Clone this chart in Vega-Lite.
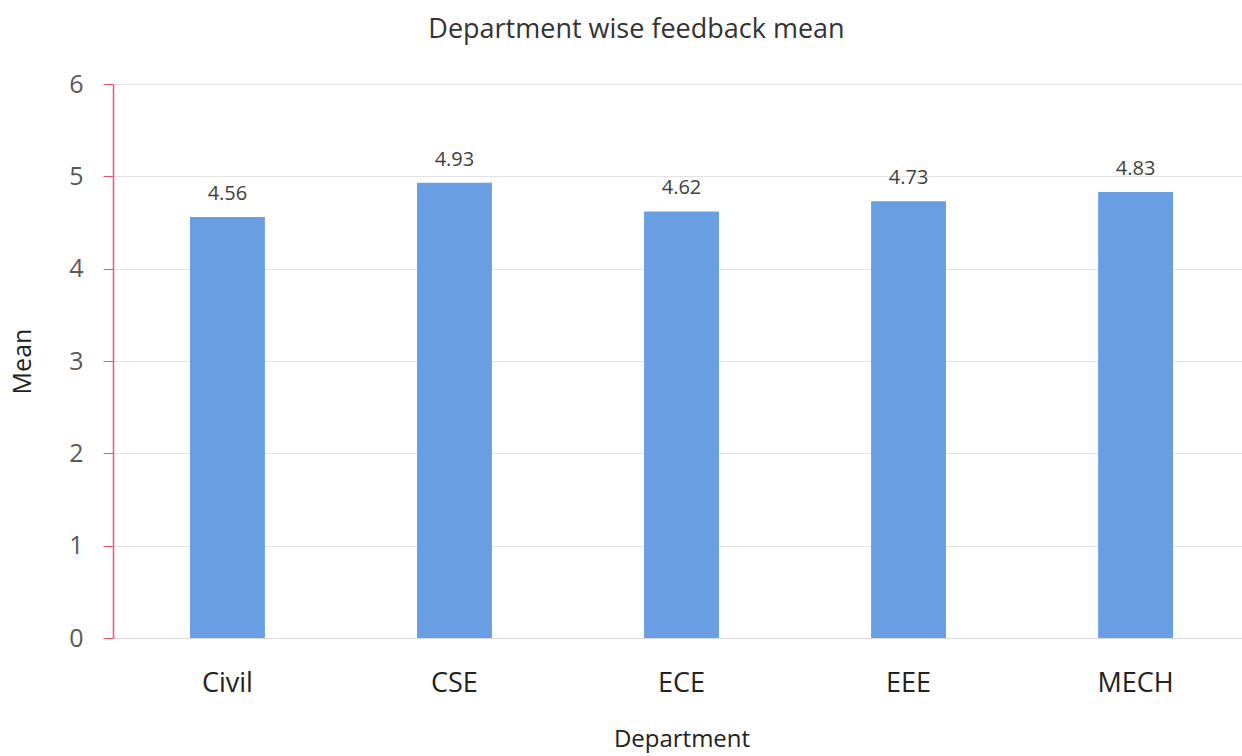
{
  "$schema": "https://vega.github.io/schema/vega-lite/v6.json",
  "autosize": {"type": "none"},
  "padding": {"left": 113, "top": 84, "right": 0, "bottom": 118},
  "width": 1129,
  "height": 554,
  "background": "white",
  "title": {
    "text": "Department wise feedback mean",
    "font": "Open Sans",
    "fontSize": 27,
    "fontWeight": "normal",
    "color": "#333333",
    "anchor": "middle",
    "dx": -41,
    "offset": 28
  },
  "data": {
    "values": [
      {"Department": "Civil", "Mean": 4.56},
      {"Department": "CSE", "Mean": 4.93},
      {"Department": "ECE", "Mean": 4.62},
      {"Department": "EEE", "Mean": 4.73},
      {"Department": "MECH", "Mean": 4.83}
    ]
  },
  "encoding": {
    "x": {
      "field": "Department",
      "type": "nominal",
      "sort": null,
      "scale": {"paddingInner": 0.67, "paddingOuter": 0.339, "range": [0, 1137]},
      "axis": {
        "labelAngle": 0,
        "labelFont": "Open Sans",
        "labelFontSize": 27,
        "labelColor": "#222222",
        "labelPadding": 32,
        "ticks": false,
        "domain": true,
        "domainColor": "#d9d9d9",
        "title": "Department",
        "titleFont": "Open Sans",
        "titleFontSize": 24,
        "titleFontWeight": "normal",
        "titleColor": "#222222",
        "titlePadding": 31
      }
    },
    "y": {
      "field": "Mean",
      "type": "quantitative",
      "scale": {"domain": [0, 6], "nice": false},
      "axis": {
        "values": [0, 1, 2, 3, 4, 5, 6],
        "labelFont": "Open Sans",
        "labelFontSize": 25,
        "labelColor": "#595959",
        "labelPadding": 20,
        "tickSize": 10,
        "tickColor": "#e8586a",
        "domainColor": "#e8586a",
        "domainWidth": 1.5,
        "gridColor": "#e3e3e3",
        "title": "Mean",
        "titleFont": "Open Sans",
        "titleFontSize": 25,
        "titleFontWeight": "normal",
        "titleColor": "#222222",
        "titlePadding": 33
      }
    }
  },
  "layer": [
    {"mark": {"type": "bar", "color": "#6a9ee2"}},
    {
      "mark": {
        "type": "text",
        "baseline": "bottom",
        "dy": -13,
        "font": "Open Sans",
        "fontSize": 20,
        "color": "#404040"
      },
      "encoding": {"text": {"field": "Mean", "type": "quantitative", "format": ".2f"}}
    }
  ],
  "config": {"view": {"stroke": null}}
}
